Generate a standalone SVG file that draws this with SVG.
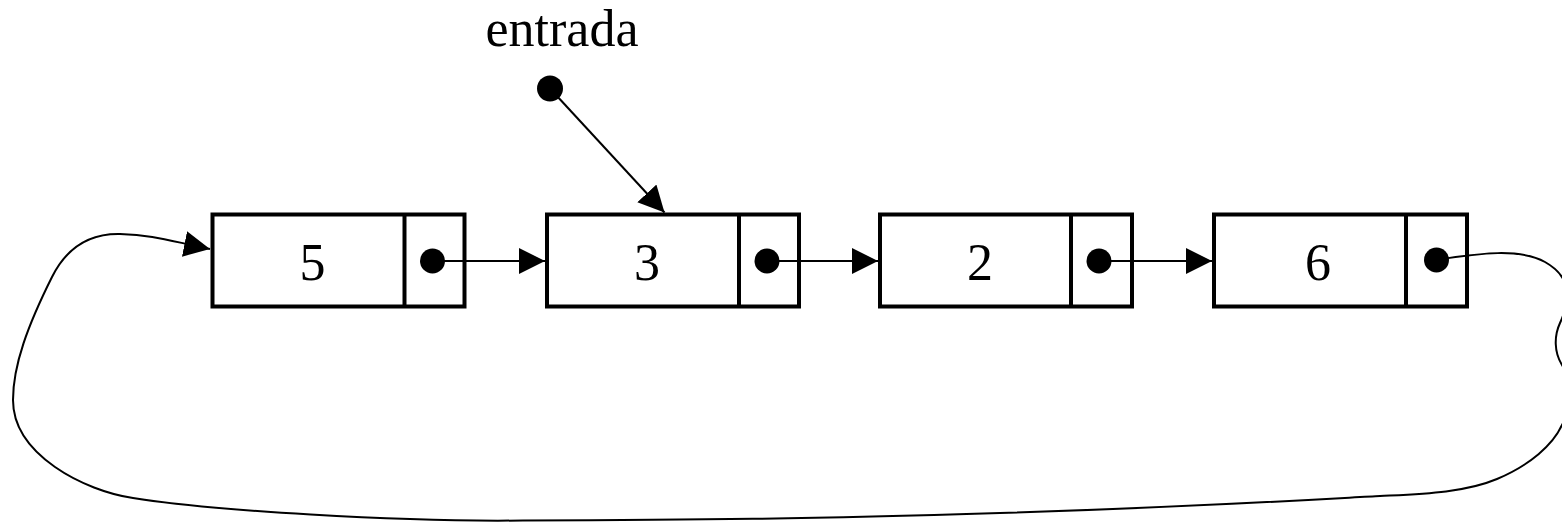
<svg xmlns="http://www.w3.org/2000/svg" width="1562" height="522" viewBox="0 0 1562 522">
  <style>
    .cell { fill: #fff; stroke: #000; stroke-width: 4; }
    .div { stroke: #000; stroke-width: 4; }
    .dot { fill: #000; }
    .val { font-family: "Liberation Serif", "Times New Roman", serif; font-size: 52px; text-anchor: middle; fill: #000; }
    .link { fill: none; stroke: #000; stroke-width: 2; }
  </style>
  <defs>
    <marker id="head" markerUnits="userSpaceOnUse" markerWidth="27" markerHeight="27" refX="26" refY="13" orient="auto">
      <path d="M0,0 L26,13 L0,26 z" fill="#000"/>
    </marker>
  </defs>
  <rect width="1562" height="522" fill="#fff"/>

  <!-- list nodes: value cell + pointer cell -->
  <g id="node-5">
    <rect class="cell" x="212.5" y="214.5" width="252" height="92"/>
    <line class="div" x1="404.5" y1="214.5" x2="404.5" y2="306.5"/>
    <text class="val" x="312.5" y="280">5</text>
    <circle class="dot" cx="432.5" cy="261" r="12.5"/>
  </g>
  <g id="node-3">
    <rect class="cell" x="547" y="214.5" width="252" height="92"/>
    <line class="div" x1="739" y1="214.5" x2="739" y2="306.5"/>
    <text class="val" x="647" y="280">3</text>
    <circle class="dot" cx="767" cy="261" r="12.5"/>
  </g>
  <g id="node-2">
    <rect class="cell" x="880" y="214.5" width="252" height="92"/>
    <line class="div" x1="1071" y1="214.5" x2="1071" y2="306.5"/>
    <text class="val" x="980" y="280">2</text>
    <circle class="dot" cx="1099" cy="261" r="12.5"/>
  </g>
  <g id="node-6">
    <rect class="cell" x="1214" y="214.5" width="253" height="92"/>
    <line class="div" x1="1406" y1="214.5" x2="1406" y2="306.5"/>
    <text class="val" x="1318" y="280">6</text>
    <circle class="dot" cx="1436.5" cy="260" r="12.5"/>
  </g>

  <g id="entrada">
    <text class="val" x="562" y="46">entrada</text>
    <circle class="dot" cx="550" cy="88.5" r="13"/>
  </g>

  <!-- pointers -->
  <g id="connectors">
    <line class="link" x1="550" y1="88.5" x2="664.5" y2="212.5" marker-end="url(#head)"/>
    <line class="link" x1="432.5" y1="261" x2="545" y2="261" marker-end="url(#head)"/>
    <line class="link" x1="767" y1="261" x2="878" y2="261" marker-end="url(#head)"/>
    <line class="link" x1="1099" y1="261" x2="1212" y2="261" marker-end="url(#head)"/>
    <!-- last node wraps back round to the first -->
    <path class="link" marker-end="url(#head)" d="M 1436.5 260
      C 1480 253, 1520 248, 1545 262
      S 1572 296, 1560 323
      C 1554 336, 1554 352, 1562 365
      C 1570 378, 1572 405, 1562 425
      C 1553 445, 1530 465, 1497 479
      C 1464 493, 1420 494, 1380 496
      C 1340 498, 1200 507, 1000 513
      C 800 519, 700 520, 523 520.5
      C 400 522, 210 510.5, 133 498
      C 85 491, 13 455, 13 400
      C 13 365, 28 325, 52 277
      C 58 265, 75 233, 120 234
      C 155 235, 170 241, 210 249"/>
  </g>
</svg>
